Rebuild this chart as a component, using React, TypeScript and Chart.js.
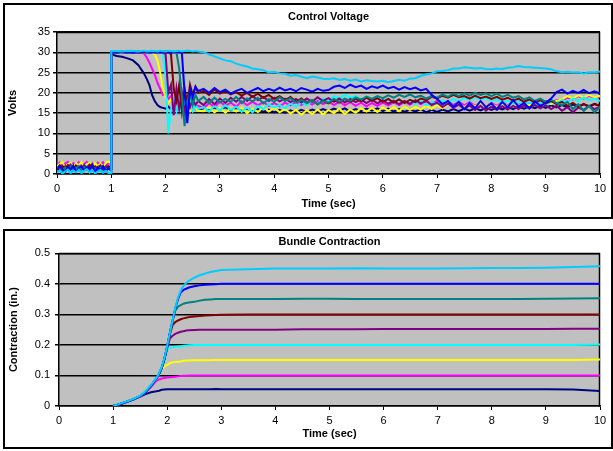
import React, { useEffect, useRef } from "react";
import { Chart, registerables } from "chart.js";
Chart.register(...registerables);

const FONT = "'Liberation Sans', Arial, Helvetica, sans-serif";
const COLORS = ["#000080", "#FF00FF", "#FFFF00", "#00FFFF", "#800080", "#800000", "#008080", "#0000FF", "#00CCFF"];
const SERIES_NAMES = ["Run 1", "Run 2", "Run 3", "Run 4", "Run 5", "Run 6", "Run 7", "Run 8", "Run 9"];
const X_TICKS = [0, 1, 2, 3, 4, 5, 6, 7, 8, 9, 10];

// ---------- Control Voltage (Volts) ----------
const TIME_V = [
  0, 0.05, 0.1, 0.15, 0.2, 0.25, 0.3, 0.35, 0.4, 0.45, 0.5, 0.55, 0.6, 0.65, 0.7, 0.75, 0.8, 0.85, 0.9, 0.95, 1, 1,
  1.1, 1.2, 1.3, 1.4, 1.5,
  1.55, 1.6, 1.65, 1.7, 1.75, 1.8, 1.85, 1.9, 1.95, 2, 2.05, 2.1, 2.15, 2.2, 2.25, 2.3, 2.35, 2.4, 2.45, 2.5, 2.55, 2.6,
  2.7, 2.8, 2.9,
  3, 3.1, 3.2, 3.3, 3.4, 3.5, 3.6, 3.7, 3.8, 3.9,
  4, 4.1, 4.2, 4.3, 4.4, 4.5, 4.6, 4.7, 4.8, 4.9,
  5, 5.1, 5.2, 5.3, 5.4, 5.5, 5.6, 5.7, 5.8, 5.9,
  6, 6.1, 6.2, 6.3, 6.4, 6.5, 6.6, 6.7, 6.8, 6.9,
  7, 7.1, 7.2, 7.3, 7.4, 7.5, 7.6, 7.7, 7.8, 7.9,
  8, 8.1, 8.2, 8.3, 8.4, 8.5, 8.6, 8.7, 8.8, 8.9,
  9, 9.1, 9.2, 9.3, 9.4, 9.5, 9.6, 9.7, 9.8, 9.9,
  10,
];

const NAVY_V = [
  1.5, 2, 1, 2.2, 1.2, 1.8, 2.3, 1, 1.6, 2.1, 1.1, 1.9, 2.4, 1.3, 1.7, 2.2, 1, 1.8, 2.3, 1.4, 1.6, 29.5,
  29.1, 28.9, 28.5, 28, 26.8,
  25.8, 24.8, 23.5, 22, 19.5, 18, 17, 16.5, 16.3, 16.1, 16.6, 15.9, 16.8, 15.8, 16.5, 17, 15.6, 16.3, 17, 16, 16.8, 15.8,
  16.2, 15.6, 16.4,
  15.8, 16.5, 15.7, 16.3, 15.5, 16.2, 15.4, 16, 15.3, 15.9,
  15.2, 15.8, 15.1, 15.7, 15.2, 15.8, 15.3, 15.9, 15.4, 16,
  15.5, 16.1, 15.6, 16.2, 15.4, 16, 15.5, 16.1, 15.6, 16.2,
  15.5, 16.1, 15.4, 16, 15.3, 15.9, 15.4, 16, 15.2, 15.8,
  15.3, 15.9, 15.4, 16, 15.5, 16.1, 15.6, 16.2, 15.7, 16.3,
  15.8, 16.4, 15.9, 16.5, 16, 16.6, 16.1, 16.7, 16.2, 16.8,
  16.3, 16.9, 16.4, 17, 16.5, 17.1, 16.6, 17.2, 16.7, 17.3,
  16.8,
];
const MAGENTA_V = [
  2.2, 2.8, 1.6, 2.6, 3, 1.8, 2.7, 2.2, 2.9, 1.7, 2.5, 3, 2, 2.6, 1.8, 2.8, 2.3, 2.9, 1.9, 2.7, 2.4, 30,
  30, 30.2, 29.9, 30.1, 30,
  30, 29.8, 28.8, 27.5, 26, 24.5, 22.5, 21, 19.5, 19.8, 18.5, 19.2, 17.5, 18.8, 17, 18.2, 16.5, 17.8, 16.2, 17.3, 16, 16.8,
  16.2, 17.5, 16.5,
  17.8, 16.8, 17.6, 16.6, 17.9, 17, 17.8, 16.9, 17.7, 16.8,
  17.5, 16.7, 17.6, 16.9, 17.8, 17, 17.9, 17.1, 18, 17.2,
  17.9, 17, 17.8, 16.9, 17.7, 16.8, 17.6, 16.7, 17.5, 16.8,
  17.6, 16.9, 17.7, 17, 17.8, 17.1, 17.9, 17.2, 18, 17.3,
  18, 17.2, 17.9, 17, 17.8, 16.9, 17.7, 16.8, 17.6, 16.7,
  17.5, 16.8, 17.6, 16.9, 17.7, 17, 17.8, 17.1, 17.9, 17.3,
  18, 17.5, 18.2, 18, 18.8, 18.4, 19.2, 18.6, 19.3, 18.8,
  19,
];
const YELLOW_V = [
  1.8, 2.5, 2.9, 1.5, 2.4, 2.8, 1.6, 2.6, 2.2, 2.9, 1.7, 2.4, 2.8, 1.6, 2.7, 2, 2.6, 1.5, 2.8, 3.1, 2.5, 30,
  30.1, 29.9, 30, 30.2, 30,
  30.1, 29.9, 30, 30.2, 29.9, 29.5, 28, 25, 21, 19, 17.5, 18.5, 16.5, 17.8, 16, 17.2, 15.8, 16.8, 15.5, 17, 16.2, 15.6,
  15.5, 16.5, 15.2,
  16.3, 15.1, 16.2, 15.4, 16.4, 15, 16.1, 15.3, 16.5, 15.4,
  16.3, 15.2, 16, 14.9, 15.8, 14.6, 15.7, 14.8, 15.9, 14.7,
  15.8, 15, 16.1, 14.8, 15.9, 15.1, 16.2, 15.4, 16.3, 15.3,
  16.4, 15.6, 16.5, 15.5, 16.6, 15.8, 16.5, 15.9, 16.8, 16,
  17, 16.2, 17.2, 16.4, 17.3, 16.5, 17.4, 16.6, 17.5, 16.8,
  17.3, 16.5, 17.4, 16.7, 17.6, 16.8, 17.5, 16.9, 17.7, 17,
  17.8, 17.2, 18, 18.4, 19.2, 18.6, 19.4, 18.8, 19.5, 18.9,
  19.3,
];
const CYAN_V = [
  0.8, 1.5, 0.4, 1.2, 1.8, 0.6, 1.4, 0.9, 1.7, 0.5, 1.3, 1.9, 0.7, 1.5, 1, 1.8, 0.6, 1.3, 0.9, 1.6, 1, 30,
  30, 29.9, 30.1, 30, 30.2,
  30, 30.1, 29.9, 30, 30.2, 30, 29.9, 30.1, 29.8, 24, 10, 16, 19, 15.5, 18.5, 15, 17.5, 15.2, 17.8, 15.5, 17, 16,
  16.5, 15.4, 16.8,
  15.6, 17, 15.8, 16.6, 15.3, 16.4, 15.2, 16.8, 16, 17.2,
  16.4, 17, 16.2, 17.4, 16.6, 17.6, 17, 18, 17.4, 18.6,
  18, 19.2, 18.6, 19.5, 18.8, 19.2, 18.4, 19, 18.2, 18.8,
  17.9, 18.5, 17.6, 18.3, 17.4, 18.1, 17.2, 17.9, 17, 17.8,
  17.3, 18.2, 17.6, 18.5, 17.9, 18.8, 18.2, 18.9, 18.3, 18.7,
  18, 18.4, 17.6, 18.1, 17.3, 17.9, 17.1, 17.7, 16.9, 17.6,
  17, 17.8, 17.4, 18.2, 17.8, 18.6, 18, 18.8, 18.2, 18.6,
  18,
];
const PURPLE_V = [
  1.4, 2.1, 1, 1.9, 1.5, 2.3, 1.2, 2, 1.6, 1.1, 2.2, 1.4, 1.8, 2.4, 1.2, 1.7, 2.1, 1, 1.9, 1.5, 1.3, 30,
  29.9, 30.1, 30, 30.2, 29.9,
  30, 30.1, 30, 29.9, 30.2, 30, 30.1, 29.9, 30, 29.5, 20, 22, 14.5, 21, 16, 20, 15, 19, 16.5, 18.5, 17, 18,
  17, 18.5, 17.2,
  18.6, 17.5, 18.8, 17.8, 19, 18, 19.2, 18.2, 19, 18,
  18.8, 17.9, 18.6, 17.7, 18.5, 17.6, 18.6, 17.8, 18.9, 18,
  18.7, 17.8, 18.6, 17.6, 18.5, 17.7, 18.4, 17.5, 18.3, 17.4,
  18.2, 17.3, 18.1, 17.2, 18, 17.3, 18.2, 17.4, 18, 17,
  17.6, 16.5, 17.4, 16.3, 17.1, 16, 16.9, 15.8, 16.8, 15.6,
  16.6, 15.8, 16.7, 15.9, 16.8, 16, 16.9, 16.1, 17, 16.2,
  16.9, 16, 16.8, 15.6, 16.5, 15.2, 16.4, 15.8, 16.7, 16,
  16.6,
];
const MAROON_V = [
  1.6, 1, 2, 1.3, 2.2, 1.5, 1.1, 2.1, 1.7, 1.3, 1.9, 1.2, 2.3, 1.5, 1.8, 1.1, 2, 1.6, 1.2, 1.9, 1.5, 30,
  30.1, 30, 29.9, 30.2, 30,
  30, 29.9, 30.1, 30, 30.2, 29.9, 30, 30.1, 30, 29.9, 30, 29.5, 21, 18, 22, 15.5, 21, 17, 22, 19.5, 21.5, 20,
  20.5, 19.5, 20.8,
  19.8, 20.5, 19.6, 20.2, 19.3, 20, 19, 19.8, 18.8, 19.5,
  18.5, 19.2, 18.2, 19, 17.8, 18.6, 17.5, 18.2, 17.2, 18,
  17.4, 18.3, 17.6, 18.5, 17.8, 18.6, 17.9, 18.8, 18, 18.7,
  17.8, 18.5, 17.6, 18.4, 17.5, 18.3, 17.7, 18.6, 18.2, 19,
  18.6, 19.3, 18.8, 19.5, 18.9, 19.2, 18.6, 19.3, 18.7, 19.1,
  18.5, 19, 18.3, 18.8, 18.1, 18.6, 17.8, 18.4, 17.6, 18.2,
  17.4, 18, 17.2, 17.8, 16.8, 17.5, 16.6, 17.3, 16.5, 17.2,
  16.8,
];
const TEAL_V = [
  1.2, 1.8, 0.8, 1.6, 1.1, 1.9, 0.9, 1.5, 2, 1, 1.7, 1.3, 0.8, 1.8, 1.4, 1, 1.6, 2, 1.1, 1.4, 1.2, 30,
  30, 30.1, 29.9, 30, 30.1,
  30, 30.1, 29.9, 30, 30.2, 30, 29.9, 30.1, 30, 30.2, 29.9, 30, 30.1, 30, 26, 19, 11.8, 18, 20, 17, 19.5, 18,
  19, 17.5, 18.8,
  17.6, 18.5, 17.8, 19, 17.5, 18.6, 17.9, 18.8, 17.4, 18.5,
  17.8, 18.9, 18, 18.7, 17.6, 18.3, 17.5, 18.2, 17.2, 18,
  17.6, 18.5, 17.8, 18.6, 18, 18.9, 18.3, 19.1, 18.5, 19.2,
  18.7, 19.4, 18.8, 19.5, 19, 19.6, 18.9, 19.3, 18.6, 19.2,
  18.8, 19.6, 19, 19.8, 19.2, 19.9, 19.3, 20, 19.5, 19.9,
  19.2, 19.8, 19, 19.5, 18.8, 19.2, 18.4, 18.9, 18, 18.6,
  17.8, 18.3, 17.5, 17, 17.8, 16, 17.2, 15.5, 16.8, 15.2,
  16.5,
];
const BLUE_V = [
  0.9, 2, 1.2, 0.4, 1.8, 1.1, 2.1, 0.6, 1.5, 2, 0.8, 1.7, 1.2, 2.2, 0.5, 1.6, 1, 1.9, 0.7, 1.4, 0.8, 30,
  30.2, 30, 30.1, 29.9, 30.2,
  30, 30.2, 30, 30.1, 29.9, 30.2, 30, 30.1, 30, 30.2, 30, 29.9, 30.1, 30, 30.2, 29.8, 20, 12.5, 21, 19, 21.5, 20.5,
  21, 20, 21.2,
  20.2, 20.8, 19.8, 20.5, 21, 20, 20.6, 21.2, 20.4, 21,
  20.5, 21.3, 20.6, 21, 20.4, 21.2, 20.8, 20.3, 21, 20.5,
  20.7, 21.5, 21.8, 21.2, 22, 21.4, 21.8, 21, 21.6, 21.2,
  21.8, 21.1, 21.5, 20.8, 21.4, 20.9, 21.3, 20.6, 21, 19.5,
  18.5, 17.2, 18, 16.5, 17.8, 16, 17.5, 16.2, 18, 16.5,
  17.4, 16, 17.8, 16.4, 18.2, 16.6, 17.5, 16.2, 17.9, 16.8,
  17.5, 18.6, 20.2, 20.8, 19.8, 20.5, 20, 20.7, 19.9, 20.4,
  19.8,
];
const SKY_V = [
  0.3, 0.9, 0.1, 0.6, 1.1, 0.2, 0.8, 0.4, 1, 0.2, 0.7, 1.2, 0.3, 0.9, 0.1, 0.6, 1, 0.3, 0.8, 0.2, 0, 30.3,
  30.3, 30.2, 30.4, 30.3, 30.2,
  30.3, 30.4, 30.2, 30.3, 30.4, 30.3, 30.2, 30.4, 30.3, 30.2, 30.4, 30.3, 30.2, 30.3, 30.4, 30.2, 30.3, 30.4, 30.3, 30.2, 30.3, 30.2,
  30, 29.5, 29,
  28.5, 28, 27.8, 27.2, 26.8, 26.5, 26, 25.8, 25.6, 25,
  25.2, 24.8, 24.7, 24.2, 24.4, 24, 23.6, 24, 23.8, 23.5,
  23.4, 23.6, 23.2, 23.4, 23, 23.3, 22.8, 23.1, 22.9, 22.8,
  23, 22.6, 22.9, 23.2, 23, 23.5, 23.6, 24.2, 24.5, 24.8,
  25.3, 25.4, 25.6, 26, 26, 26.3, 26.2, 26, 26.1, 25.9,
  25.8, 26, 25.9, 26.2, 26.3, 26.6, 26.4, 26.3, 26.2, 26.1,
  26, 25.8, 25.3, 25.1, 25.2, 25, 25.1, 24.8, 25.1, 25,
  25.3,
];
const VOLT_SERIES = [NAVY_V, MAGENTA_V, YELLOW_V, CYAN_V, PURPLE_V, MAROON_V, TEAL_V, BLUE_V, SKY_V];

// ---------- Bundle Contraction (in.) ----------
const TIME_C = [
  1, 1.1, 1.2, 1.3, 1.4, 1.5, 1.6, 1.7, 1.8, 1.85, 1.9, 1.95, 2, 2.05, 2.1, 2.15, 2.2, 2.25, 2.3, 2.35, 2.4,
  2.5, 2.6, 2.7, 2.8, 2.9, 3, 3.5, 4, 4.5, 5, 5.5, 6, 6.5, 7, 7.5, 8, 8.5, 9, 9.5, 10,
];
const NAVY_C = [
  0, 0.004, 0.01, 0.016, 0.023, 0.031, 0.039, 0.045, 0.048, 0.05, 0.053, 0.054, 0.055, 0.055, 0.055, 0.055, 0.055, 0.055, 0.055, 0.055, 0.055,
  0.055, 0.055, 0.055, 0.055, 0.056, 0.055, 0.055, 0.055, 0.055, 0.055, 0.055, 0.055, 0.055, 0.055, 0.055, 0.055, 0.055, 0.055, 0.054, 0.049,
];
const MAGENTA_C = [
  0, 0.005, 0.011, 0.017, 0.024, 0.032, 0.045, 0.062, 0.082, 0.087, 0.09, 0.092, 0.093, 0.094, 0.095, 0.096, 0.097, 0.098, 0.099, 0.099, 0.1,
  0.1, 0.1, 0.1, 0.1, 0.1, 0.1, 0.1, 0.1, 0.1, 0.1, 0.1, 0.1, 0.1, 0.1, 0.1, 0.1, 0.1, 0.1, 0.1, 0.1,
];
const YELLOW_C = [
  0, 0.005, 0.011, 0.017, 0.024, 0.032, 0.046, 0.066, 0.09, 0.105, 0.12, 0.13, 0.135, 0.14, 0.143, 0.144, 0.145, 0.146, 0.148, 0.149, 0.149,
  0.15, 0.15, 0.15, 0.15, 0.151, 0.151, 0.151, 0.151, 0.151, 0.151, 0.151, 0.151, 0.151, 0.151, 0.151, 0.151, 0.151, 0.151, 0.151, 0.152,
];
const CYAN_C = [
  0, 0.005, 0.011, 0.017, 0.024, 0.032, 0.046, 0.066, 0.09, 0.105, 0.125, 0.155, 0.185, 0.19, 0.192, 0.194, 0.195, 0.196, 0.197, 0.198, 0.199,
  0.2, 0.2, 0.2, 0.2, 0.2, 0.2, 0.2, 0.2, 0.2, 0.2, 0.2, 0.2, 0.2, 0.2, 0.2, 0.2, 0.2, 0.2, 0.2, 0.201,
];
const PURPLE_C = [
  0, 0.005, 0.011, 0.017, 0.024, 0.032, 0.046, 0.066, 0.09, 0.105, 0.125, 0.155, 0.19, 0.222, 0.23, 0.236, 0.24, 0.243, 0.245, 0.247, 0.248,
  0.249, 0.25, 0.25, 0.25, 0.25, 0.25, 0.25, 0.25, 0.251, 0.251, 0.251, 0.252, 0.252, 0.252, 0.252, 0.252, 0.252, 0.252, 0.253, 0.253,
];
const MAROON_C = [
  0, 0.005, 0.011, 0.017, 0.024, 0.032, 0.046, 0.066, 0.09, 0.105, 0.125, 0.155, 0.195, 0.235, 0.265, 0.275, 0.28, 0.284, 0.287, 0.289, 0.291,
  0.293, 0.295, 0.296, 0.297, 0.298, 0.299, 0.3, 0.3, 0.3, 0.3, 0.3, 0.3, 0.3, 0.3, 0.3, 0.3, 0.3, 0.3, 0.3, 0.3,
];
const TEAL_C = [
  0, 0.005, 0.011, 0.017, 0.024, 0.032, 0.046, 0.066, 0.09, 0.105, 0.125, 0.155, 0.195, 0.24, 0.28, 0.312, 0.325, 0.33, 0.335, 0.337, 0.339,
  0.341, 0.345, 0.348, 0.349, 0.35, 0.35, 0.35, 0.35, 0.351, 0.351, 0.35, 0.35, 0.35, 0.35, 0.35, 0.35, 0.35, 0.351, 0.352, 0.353,
];
const BLUE_C = [
  0, 0.005, 0.011, 0.017, 0.024, 0.032, 0.046, 0.066, 0.09, 0.105, 0.125, 0.155, 0.195, 0.24, 0.28, 0.32, 0.35, 0.372, 0.38, 0.384, 0.388,
  0.392, 0.395, 0.397, 0.398, 0.399, 0.4, 0.4, 0.4, 0.4, 0.4, 0.4, 0.4, 0.4, 0.4, 0.4, 0.4, 0.4, 0.4, 0.4, 0.4,
];
const SKY_C = [
  0, 0.006, 0.012, 0.018, 0.025, 0.034, 0.048, 0.068, 0.092, 0.108, 0.128, 0.158, 0.198, 0.24, 0.282, 0.322, 0.355, 0.378, 0.393, 0.403, 0.41,
  0.42, 0.428, 0.434, 0.439, 0.442, 0.445, 0.448, 0.45, 0.45, 0.45, 0.451, 0.45, 0.45, 0.45, 0.451, 0.452, 0.452, 0.453, 0.455, 0.458,
];
const CONTRACTION_SERIES = [NAVY_C, MAGENTA_C, YELLOW_C, CYAN_C, PURPLE_C, MAROON_C, TEAL_C, BLUE_C, SKY_C];

const plotArea = {
  id: "plotArea",
  beforeDraw(chart: any) {
    const { ctx, chartArea: a } = chart;
    ctx.save();
    ctx.fillStyle = "#C0C0C0";
    ctx.fillRect(a.left, a.top, a.right - a.left, a.bottom - a.top);
    ctx.restore();
  },
  beforeDatasetsDraw(chart: any) {
    const { ctx, chartArea: a } = chart;
    ctx.save();
    ctx.strokeStyle = "#000";
    ctx.lineWidth = 1.5;
    ctx.beginPath();
    ctx.moveTo(Math.round(a.left), Math.round(a.top) + 0.5);
    ctx.lineTo(Math.round(a.right) - 0.5, Math.round(a.top) + 0.5);
    ctx.lineTo(Math.round(a.right) - 0.5, Math.round(a.bottom) + 0.5);
    ctx.stroke();
    ctx.restore();
  },
};

function buildConfig(p: any) {
  const n = p.series.length;
  return {
    type: "line",
    data: {
      datasets: p.series.map((s: number[], i: number) => ({
        label: SERIES_NAMES[i],
        data: p.time.map((t: number, j: number) => ({ x: t, y: s[j] })),
        borderColor: COLORS[i],
        backgroundColor: COLORS[i],
        borderWidth: 2,
        pointRadius: 0,
        tension: 0,
        fill: false,
        order: n - 1 - i,
      })),
    },
    plugins: [plotArea],
    options: {
      responsive: false,
      animation: false,
      devicePixelRatio: 1,
      layout: { padding: { left: 0, right: p.padRight, top: 0, bottom: 0 } },
      plugins: {
        legend: { display: false },
        tooltip: { enabled: false },
        title: {
          display: true,
          text: p.title,
          color: "#000",
          fullSize: false,
          font: { family: FONT, size: 11, weight: "bold" },
          padding: p.titlePad,
        },
      },
      scales: {
        x: {
          type: "linear",
          min: 0,
          max: 10,
          afterBuildTicks: (scale: any) => {
            scale.ticks = X_TICKS.map((v) => ({ value: v }));
          },
          ticks: { color: "#000", font: { family: FONT, size: 11 }, padding: 4, maxRotation: 0, autoSkip: false },
          grid: { drawOnChartArea: false, drawTicks: true, tickLength: 4, color: "#000", lineWidth: 1 },
          border: { display: true, color: "#000", width: 1.5 },
          title: {
            display: true,
            text: "Time (sec)",
            color: "#000",
            font: { family: FONT, size: 11, weight: "bold" },
            padding: { top: 0, bottom: p.xTitlePad },
          },
          afterFit: (scale: any) => {
            scale.height = p.xHeight;
          },
        },
        y: {
          type: "linear",
          min: 0,
          max: p.yMax,
          ticks: { stepSize: p.yStep, color: "#000", font: { family: FONT, size: 11 }, padding: p.yTickPad },
          grid: { drawOnChartArea: true, drawTicks: true, tickLength: 4, color: "#000", lineWidth: 1.5 },
          border: { display: true, color: "#000", width: 1.5 },
          title: {
            display: true,
            text: p.yTitle,
            color: "#000",
            font: { family: FONT, size: 11, weight: "bold" },
            padding: { top: p.yTitlePad, bottom: 0 },
          },
          afterFit: (scale: any) => {
            scale.width = p.yWidth;
          },
        },
      },
    },
  } as any;
}

export default function App() {
  const ref1 = useRef<HTMLCanvasElement>(null);
  const ref2 = useRef<HTMLCanvasElement>(null);

  useEffect(() => {
    document.body.style.margin = "0";
    const c1 = new Chart(
      ref1.current as HTMLCanvasElement,
      buildConfig({
        time: TIME_V,
        series: VOLT_SERIES,
        title: "Control Voltage",
        yTitle: "Volts",
        yMax: 35,
        yStep: 5,
        yWidth: 57,
        xHeight: 51,
        padRight: 13,
        titlePad: { top: 10, bottom: 8.8 },
        xTitlePad: 14,
        yTickPad: 3,
        yTitlePad: 6.7,
      })
    );
    const c2 = new Chart(
      ref2.current as HTMLCanvasElement,
      buildConfig({
        time: TIME_C,
        series: CONTRACTION_SERIES,
        title: "Bundle Contraction",
        yTitle: "Contraction (in.)",
        yMax: 0.5,
        yStep: 0.1,
        yWidth: 59,
        xHeight: 45,
        padRight: 13,
        titlePad: { top: 10, bottom: 5.1 },
        xTitlePad: 10.4,
        yTickPad: 5,
        yTitlePad: 7.4,
      })
    );
    return () => {
      c1.destroy();
      c2.destroy();
    };
  }, []);

  return (
    <div style={{ position: "relative", width: 613, height: 451, background: "#fff", overflow: "hidden" }}>
      <div style={{ position: "absolute", left: 3, top: 3, width: 610, height: 216, border: "2px solid #000", boxSizing: "border-box" }} />
      <div style={{ position: "absolute", left: 3, top: 229, width: 610, height: 220, border: "2px solid #000", boxSizing: "border-box" }} />
      <canvas ref={ref1} width={613} height={225} style={{ position: "absolute", left: 0, top: 0, width: 613, height: 225 }} />
      <canvas ref={ref2} width={613} height={226} style={{ position: "absolute", left: 0, top: 225, width: 613, height: 226 }} />
    </div>
  );
}
